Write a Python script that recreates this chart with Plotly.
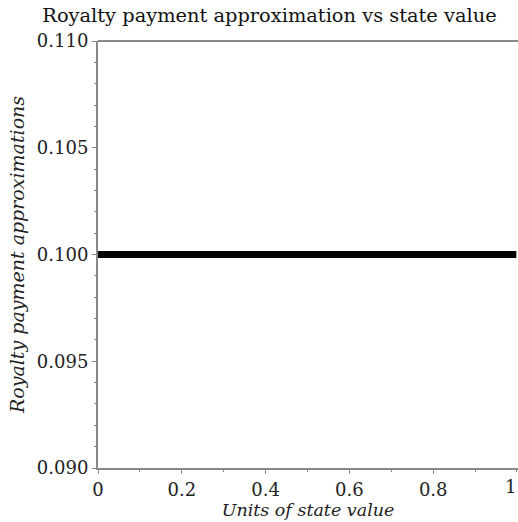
import plotly.graph_objects as go

x_vals = [0.0, 0.25, 0.5, 0.75, 1.0]
y_vals = [0.1, 0.1, 0.1, 0.1, 0.1]
x_ticks = [0, 0.2, 0.4, 0.6, 0.8, 1]
x_ticktext = ["0", "0.2", "0.4", "0.6", "0.8", "1"]
y_ticks = [0.090, 0.095, 0.100, 0.105, 0.110]
y_ticktext = ["0.090", "0.095", "0.100", "0.105", "0.110"]

FONT = "DejaVu Serif"
AX = "#888888"
TXT = "#222222"

fig = go.Figure()
fig.add_trace(go.Scatter(x=x_vals, y=y_vals, mode="lines",
                         line=dict(color="black", width=7), showlegend=False))

fig.update_layout(
    width=518, height=522,
    margin=dict(l=98, r=0, t=41, b=54),
    paper_bgcolor="white", plot_bgcolor="white",
    title=dict(text="Royalty payment approximation vs state value",
               x=(42 + 497) / 2 / 518, xanchor="center", y=1 - 15 / 522, yanchor="middle",
               font=dict(family=FONT, size=19.4, color="#111111")),
    font=dict(family=FONT, size=18, color=TXT),
)
# top frame line
fig.add_shape(type="line", xref="paper", yref="paper", x0=0, x1=1, y0=1, y1=1,
              line=dict(color=AX, width=2))
# the reference has no right frame line: mask the window-edge column
fig.add_shape(type="rect", xref="paper", yref="paper", layer="above",
              x0=0.996, x1=1.01, y0=2.5 / 427, y1=1 - 2.5 / 427,
              fillcolor="white", line=dict(width=0))
# the last x tick label sits at the window edge in the reference
fig.add_annotation(x=x_ticks[-1], y=0, xref="x", yref="paper", yanchor="top",
                   yshift=-6, xanchor="right", xshift=1, text=x_ticktext[-1],
                   showarrow=False, font=dict(family=FONT, size=18, color=TXT))
fig.update_xaxes(
    range=[0, 1.0024], tickvals=x_ticks[:-1], ticktext=x_ticktext[:-1],
    showgrid=False, zeroline=False,
    showline=True, linecolor=AX, linewidth=2, mirror=False,
    ticks="outside", ticklen=4, tickwidth=1, tickcolor=AX,
    minor=dict(dtick=0.1, ticks="outside", ticklen=2, tickcolor=AX, showgrid=False),
    tickfont=dict(family=FONT, size=18, color=TXT),
    title=dict(text="<i>Units of state value</i>", standoff=5,
               font=dict(family=FONT, size=17.5, color=TXT)),
)
fig.update_yaxes(
    range=[0.090, 0.110], tickvals=y_ticks, ticktext=y_ticktext,
    showgrid=False, zeroline=False,
    showline=True, linecolor=AX, linewidth=2, mirror=False,
    ticks="outside", ticklen=4, tickwidth=1, tickcolor=AX,
    minor=dict(dtick=0.001, ticks="outside", ticklen=2, tickcolor=AX, showgrid=False),
    tickfont=dict(family=FONT, size=18, color=TXT),
    title=dict(text="<i>Royalty payment approximations</i>", standoff=7,
               font=dict(family=FONT, size=19, color=TXT)),
)

fig.write_html("out.html")
